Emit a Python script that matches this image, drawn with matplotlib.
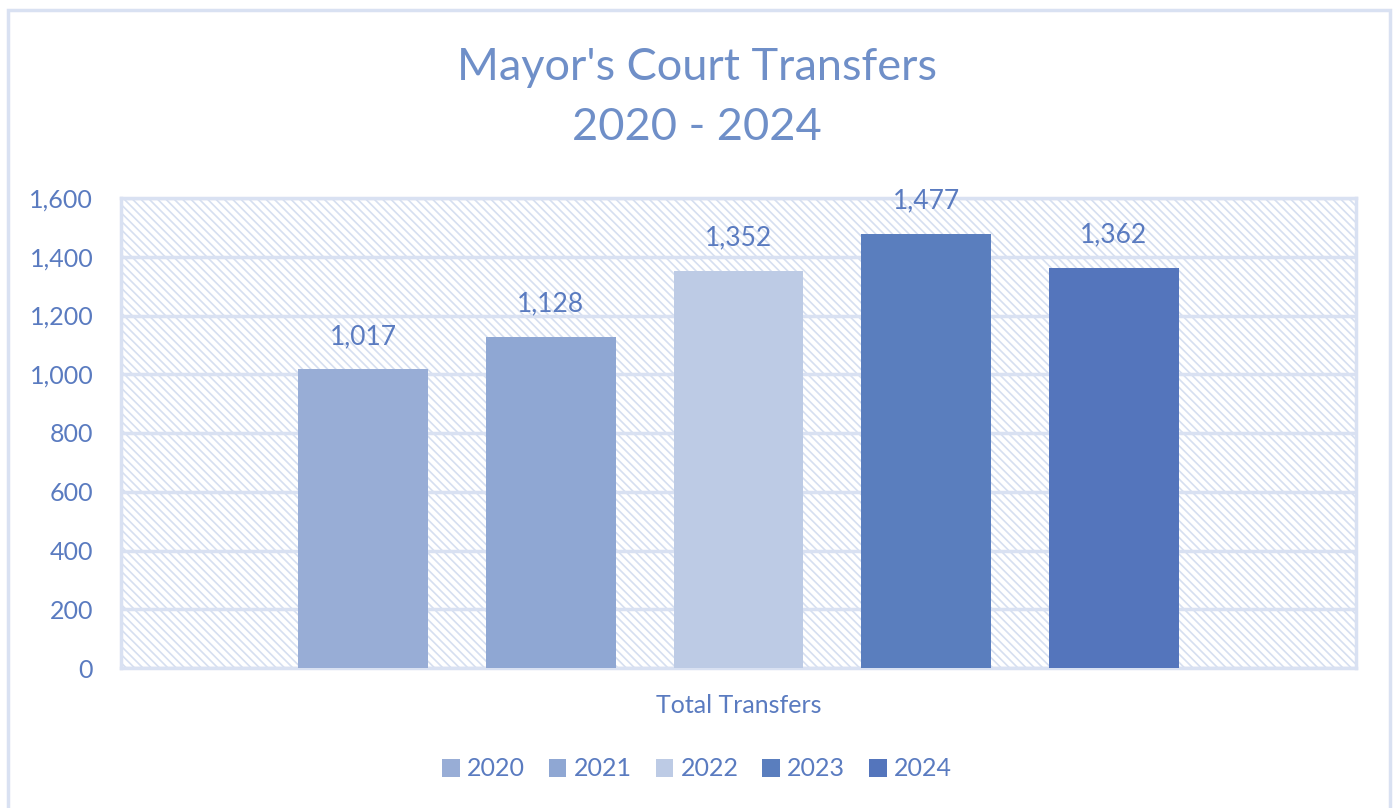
import numpy as np
import matplotlib.pyplot as plt
from matplotlib.patches import Rectangle

plt.rcParams['font.family'] = ['Lato', 'DejaVu Sans']
plt.rcParams['hatch.color'] = '#d6dff0'
plt.rcParams['hatch.linewidth'] = 1.2

years = ['2020', '2021', '2022', '2023', '2024']
transfers = [1017, 1128, 1352, 1477, 1362]
colors = ['#98add6', '#8fa7d3', '#bdcbe5', '#5a7ebe', '#5475bc']
category = 'Total Transfers'

text_col = '#6f8fc8'
tick_col = '#5a7bc0'
grid_col = '#d9e1f2'

fig = plt.figure(figsize=(13.94, 8.08), dpi=100)
fig.patches.append(Rectangle((8 / 1394, -0.02), 1382 / 1394, 1.02 - 10 / 808,
                             transform=fig.transFigure, fill=False,
                             edgecolor=grid_col, linewidth=2.5))
ax = fig.add_axes([121 / 1394, 1 - 668 / 808, (1356 - 121) / 1394, (668 - 198) / 808])

step = 0.152
width = 0.105
offsets = (np.arange(len(years)) - 2) * step
for off, val, col, yr in zip(offsets, transfers, colors, years):
    ax.bar(off, val, width=width, color=col, label=yr, zorder=3)
    ax.text(off, val + 112, f'{val:,}', ha='center', va='center',
            fontsize=19, color=tick_col, zorder=4)

ax.set_xlim(-0.5, 0.5)
ax.set_ylim(0, 1600)
ax.set_yticks(np.arange(0, 1601, 200))
ax.set_yticklabels([f'{v:,}' for v in range(0, 1601, 200)])
ax.set_xticks([])
ax.tick_params(axis='y', length=0, labelsize=18, labelcolor=tick_col, pad=20)
ax.yaxis.grid(True, color=grid_col, linewidth=2.5, zorder=1)
ax.set_axisbelow(True)
for s in ax.spines.values():
    s.set_color(grid_col)
    s.set_linewidth(2.5)

ax.add_patch(Rectangle((0, 0), 1, 1, transform=ax.transAxes, facecolor='white',
                       hatch='\\\\\\\\', edgecolor='#d6dff0', linewidth=0, zorder=0))

ax.text(0.5, -0.08, category, transform=ax.transAxes, ha='center', va='center',
        fontsize=18, color=tick_col)

fig.text(0.5, 1 - 68 / 808, "Mayor's Court Transfers", ha='center', va='center',
         fontsize=32.5, color=text_col)
fig.text(0.5, 1 - 128 / 808, '2020 - 2024', ha='center', va='center',
         fontsize=32.5, color=text_col)

handles, labels = ax.get_legend_handles_labels()
fig.legend(handles, labels, loc='center', bbox_to_anchor=(0.5, 1 - 769 / 808),
           ncol=5, frameon=False, fontsize=18, labelcolor=tick_col,
           handlelength=0.7, handleheight=0.7, handletextpad=0.3, columnspacing=0.95)

fig.savefig('out.png', dpi=100)
